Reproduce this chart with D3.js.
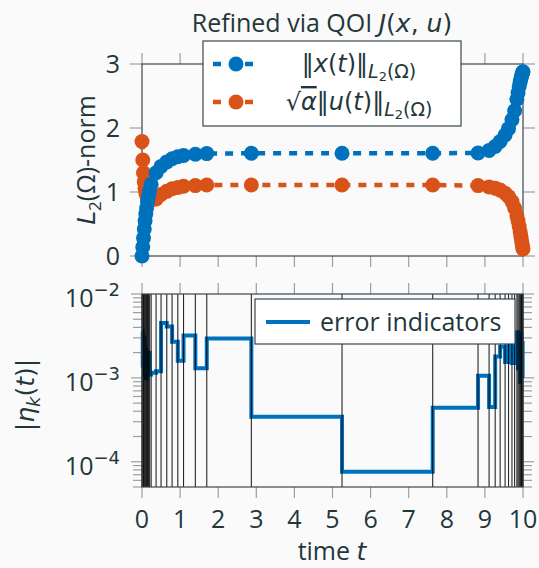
<!DOCTYPE html>
<html>
<head>
<meta charset="utf-8">
<script src="https://cdn.jsdelivr.net/npm/d3@7"></script>
<style>
  body { margin: 0; background: #fafafa; }
  text { font-family: "Open Sans", Lato, sans-serif; fill: #23373b; }
  .m { font-family: "DejaVu Sans", sans-serif; }
</style>
</head>
<body>
<script>
// mesh nodes (time grid after refinement)
const nodes = [0, 0.02, 0.04, 0.06, 0.08, 0.10, 0.12, 0.145, 0.17, 0.20, 0.24,
  0.37, 0.50, 0.65, 0.79, 0.94, 1.09, 1.40, 1.70, 2.87, 5.25, 7.63,
  8.82, 9.11, 9.27, 9.40, 9.53, 9.62, 9.71, 9.78, 9.84,
  9.87, 9.90, 9.925, 9.945, 9.96, 9.975, 9.99, 10];

// ||x(t)|| at the nodes
const xNorm = [0.00, 0.14, 0.28, 0.42, 0.55, 0.66, 0.75, 0.85, 0.93, 1.02, 1.12,
  1.30, 1.40, 1.47, 1.52, 1.55, 1.57, 1.59, 1.60, 1.605, 1.605, 1.605,
  1.61, 1.65, 1.71, 1.79, 1.89, 1.99, 2.13, 2.27, 2.45,
  2.55, 2.65, 2.72, 2.77, 2.81, 2.84, 2.87, 2.88];

// sqrt(alpha) ||u(t)|| at the nodes
const uNorm = [1.79, 1.50, 1.30, 1.16, 1.06, 0.99, 0.95, 0.92, 0.90, 0.88, 0.87,
  0.89, 0.96, 1.01, 1.05, 1.07, 1.09, 1.10, 1.11, 1.11, 1.11, 1.11,
  1.10, 1.08, 1.06, 1.03, 0.98, 0.93, 0.85, 0.75, 0.63,
  0.55, 0.46, 0.38, 0.31, 0.25, 0.19, 0.14, 0.11];

// error indicator per interval [nodes[i], nodes[i+1]]
const eta = [3.6e-3, 1.4e-3, 3.0e-3, 1.1e-3, 2.2e-3, 1.0e-3, 1.8e-3, 1.2e-3, 2.0e-3, 1.1e-3,
  1.15e-3, 1.2e-3, 4.5e-3, 4.1e-3, 2.7e-3, 1.6e-3, 3.2e-3, 1.3e-3, 2.95e-3,
  3.45e-4, 7.6e-5, 4.4e-4,
  1.06e-3, 4.5e-4, 1.8e-3, 2.35e-3, 1.55e-3, 2.95e-3, 1.5e-3, 2.3e-3,
  3.5e-3, 1.3e-3, 2.8e-3, 0.9e-3, 3.3e-3, 1.2e-3, 2.6e-3, 1.0e-3];

const xTicks = [0, 1, 2, 3, 4, 5, 6, 7, 8, 9, 10];
const topYTicks = [0, 1, 2, 3];
const logTicks = [1e-2, 1e-3, 1e-4];
const logTickExp = ["−2", "−3", "−4"];

const blue = "#0072bd", orange = "#d95319";
const frameCol = "#37474f", tickCol = "#9e9e9e";
const FS = 25;

const W = 539, H = 568;
const svg = d3.select("body").append("svg")
    .attr("width", W)
    .attr("height", H);

svg.append("rect").attr("width", W).attr("height", H).attr("fill", "#fafafa");

const x = d3.scaleLinear().domain([0, 10]).range([142, 523]);
const yTop = d3.scaleLinear().domain([0, 3]).range([256, 64]);
const yBot = d3.scaleLog().domain([5e-5, 1e-2]).range([487, 294]);

// append pieces of a label; each piece: [text, options]
function rich(sel, parts) {
  parts.forEach(([s, o]) => {
    o = o || {};
    const ts = sel.append("tspan").text(s);
    if (o.m) ts.attr("class", "m");
    if (o.i) ts.attr("font-style", "italic");
    if (o.fs) ts.attr("font-size", o.fs);
    if (o.dy) ts.attr("dy", o.dy);
    if (o.ov) ts.style("text-decoration", "overline");
  });
  return sel;
}

// ---------- top panel ----------
const topG = svg.append("g");

function xTickMarks(g, y0, y1) {
  g.selectAll(null).data(xTicks).enter().append("line")
    .attr("x1", d => x(d)).attr("x2", d => x(d))
    .attr("y1", y0).attr("y2", y1)
    .attr("stroke", tickCol).attr("stroke-width", 1.2);
}

xTickMarks(topG, 53, 64);
xTickMarks(topG, 256, 267);

topG.selectAll(null).data(topYTicks).enter().append("line")
  .attr("x1", 130).attr("x2", 142)
  .attr("y1", d => yTop(d)).attr("y2", d => yTop(d))
  .attr("stroke", tickCol).attr("stroke-width", 1.2);
topG.selectAll(null).data(topYTicks).enter().append("line")
  .attr("x1", 523).attr("x2", 535)
  .attr("y1", d => yTop(d)).attr("y2", d => yTop(d))
  .attr("stroke", tickCol).attr("stroke-width", 1.2);
topG.selectAll(null).data(topYTicks).enter().append("text")
  .attr("x", 120).attr("y", d => yTop(d)).attr("dy", "0.36em")
  .attr("text-anchor", "end").attr("font-size", FS)
  .text(d => d);

topG.append("rect")
  .attr("x", 142).attr("y", 64).attr("width", 381).attr("height", 192)
  .attr("fill", "none").attr("stroke", frameCol).attr("stroke-width", 1.2);

const series = [
  {vals: uNorm, col: orange},
  {vals: xNorm, col: blue}
];

const lineTop = d3.line().x(d => x(d[0])).y(d => yTop(d[1]));
series.forEach(s => {
  const pts = nodes.map((t, i) => [t, s.vals[i]]);
  const g = topG.append("g");
  g.append("path").datum(pts)
    .attr("d", lineTop)
    .attr("fill", "none").attr("stroke", s.col)
    .attr("stroke-width", 4.5).attr("stroke-dasharray", "8,8");
  g.selectAll("circle").data(pts).enter().append("circle")
    .attr("cx", d => x(d[0])).attr("cy", d => yTop(d[1]))
    .attr("r", 7.5).attr("fill", s.col);
});

// title
rich(svg.append("text").attr("x", 322).attr("y", 32)
  .attr("text-anchor", "middle").attr("font-size", FS), [
  ["Refined via QOI "], ["J", {m: 1, i: 1}], ["(", {m: 1}], ["x", {m: 1, i: 1}],
  [", ", {m: 1}], ["u", {m: 1, i: 1}], [")", {m: 1}]
]);

// top y label
rich(svg.append("text")
  .attr("transform", "translate(95,160) rotate(-90)")
  .attr("text-anchor", "middle").attr("font-size", FS), [
  ["L", {m: 1, i: 1}], ["2", {fs: 17, dy: 6}], ["(Ω)-norm", {dy: -6}]
]);

// top legend
const leg = svg.append("g");
leg.append("rect").attr("x", 203).attr("y", 41).attr("width", 258).attr("height", 85)
  .attr("fill", "white").attr("stroke", frameCol).attr("stroke-width", 1.2);
[{col: blue, y: 64}, {col: orange, y: 102}].forEach(e => {
  leg.append("line").attr("x1", 213).attr("x2", 257).attr("y1", e.y).attr("y2", e.y)
    .attr("stroke", e.col).attr("stroke-width", 4.5).attr("stroke-dasharray", "8,8");
  leg.append("circle").attr("cx", 236).attr("cy", e.y).attr("r", 7.5).attr("fill", e.col);
});
const normSub = [
  ["L", {m: 1, i: 1, fs: 19, dy: 6}], ["2", {m: 1, fs: 13, dy: 3}], ["(Ω)", {m: 1, fs: 19, dy: -3}]
];
rich(leg.append("text").attr("x", 359).attr("y", 72)
  .attr("text-anchor", "middle").attr("font-size", 24), [
  ["‖", {m: 1}], ["x", {m: 1, i: 1}], ["(", {m: 1}], ["t", {m: 1, i: 1}], [")‖", {m: 1}]
].concat(normSub));
rich(leg.append("text").attr("x", 359).attr("y", 110)
  .attr("text-anchor", "middle").attr("font-size", 24), [
  ["√", {m: 1}], ["α", {m: 1, i: 1, ov: 1}], ["‖", {m: 1}], ["u", {m: 1, i: 1}],
  ["(", {m: 1}], ["t", {m: 1, i: 1}], [")‖", {m: 1}]
].concat(normSub));

// ---------- bottom panel ----------
const bot = svg.append("g");
xTickMarks(bot, 283, 294);
xTickMarks(bot, 487, 498);

const minor = [];
[-5, -4, -3].forEach(k => {
  for (let m = 2; m <= 9; m++) {
    const v = m * Math.pow(10, k);
    if (v >= 5e-5 && v <= 1e-2) minor.push(v);
  }
});
[[131, 142, logTicks], [133, 142, minor], [523, 534, logTicks], [523, 532, minor]].forEach(([a, b, arr]) => {
  bot.selectAll(null).data(arr).enter().append("line")
    .attr("x1", a).attr("x2", b)
    .attr("y1", d => yBot(d)).attr("y2", d => yBot(d))
    .attr("stroke", tickCol).attr("stroke-width", 1.2);
});

const ltxt = bot.selectAll(null).data(logTicks).enter().append("text")
  .attr("x", 120).attr("y", d => yBot(d) + 13)
  .attr("text-anchor", "end").attr("font-size", FS);
ltxt.append("tspan").text("10");
ltxt.append("tspan").attr("class", "m").attr("font-size", 18).attr("dy", -11)
  .text((d, i) => logTickExp[i]);

bot.selectAll(null).data(xTicks).enter().append("text")
  .attr("x", d => x(d)).attr("y", 528)
  .attr("text-anchor", "middle").attr("font-size", FS)
  .text(d => d);

// error indicator steps
const stepPts = nodes.map((t, i) => [t, i < eta.length ? eta[i] : eta[eta.length - 1]]);
bot.append("path").datum(stepPts)
  .attr("d", d3.line().x(d => x(d[0])).y(d => yBot(d[1])).curve(d3.curveStepAfter))
  .attr("fill", "none").attr("stroke", blue).attr("stroke-width", 4);

// mesh lines
bot.selectAll(null).data(nodes).enter().append("line")
  .attr("x1", d => x(d)).attr("x2", d => x(d))
  .attr("y1", 294).attr("y2", 487)
  .attr("stroke", "#000").attr("stroke-width", 1.1).attr("stroke-opacity", 0.85);

bot.append("rect")
  .attr("x", 142).attr("y", 294).attr("width", 381).attr("height", 193)
  .attr("fill", "none").attr("stroke", frameCol).attr("stroke-width", 1.2);

// bottom legend
const leg2 = svg.append("g");
leg2.append("rect").attr("x", 255).attr("y", 299).attr("width", 260).attr("height", 45)
  .attr("fill", "white").attr("stroke", frameCol).attr("stroke-width", 1.2);
leg2.append("line").attr("x1", 266).attr("x2", 310).attr("y1", 322).attr("y2", 322)
  .attr("stroke", blue).attr("stroke-width", 4);
leg2.append("text").attr("x", 320).attr("y", 331).attr("font-size", FS)
  .text("error indicators");

// bottom y label
rich(svg.append("text")
  .attr("transform", "translate(34,395) rotate(-90)")
  .attr("text-anchor", "middle").attr("font-size", FS), [
  ["|", {m: 1}], ["η", {m: 1, i: 1}], ["k", {m: 1, i: 1, fs: 18, dy: 6}],
  ["(", {m: 1, dy: -6}], ["t", {m: 1, i: 1}], [")|", {m: 1}]
]);

// x label
rich(svg.append("text").attr("x", 332).attr("y", 560)
  .attr("text-anchor", "middle").attr("font-size", FS), [
  ["time "], ["t", {m: 1, i: 1}]
]);
</script>
</body>
</html>
